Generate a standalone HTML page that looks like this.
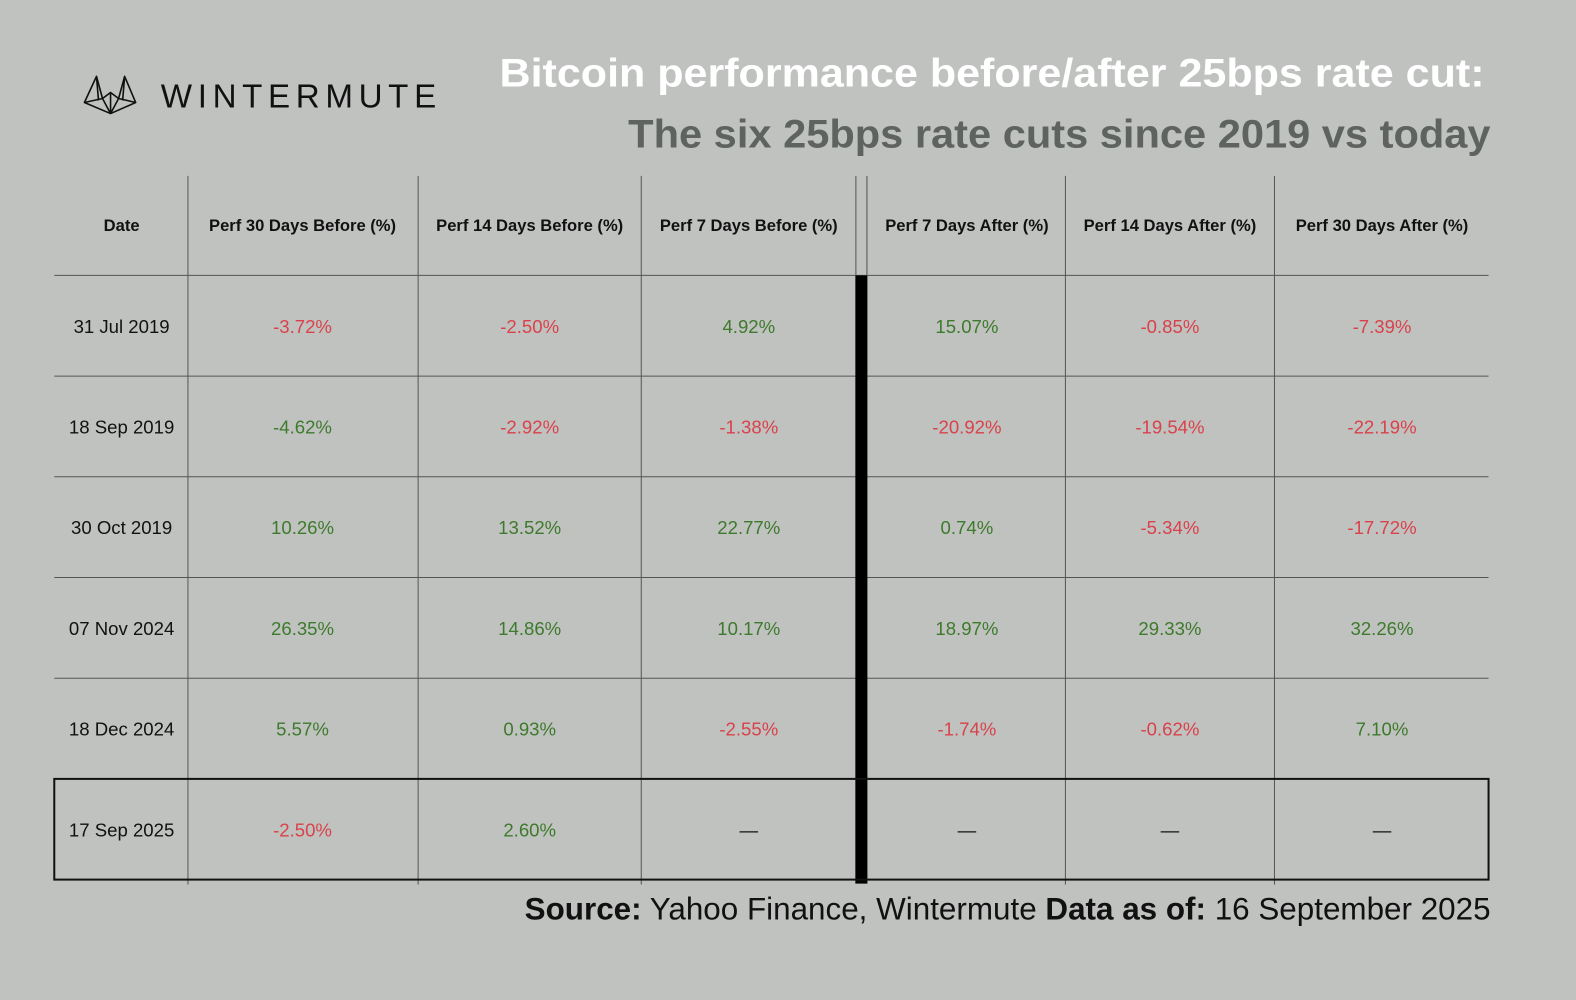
<!DOCTYPE html>
<html><head><meta charset="utf-8"><style>
html,body{margin:0;padding:0;background:#c0c2c0;}
svg{display:block;font-family:"Liberation Sans",sans-serif;}
</style></head><body>
<svg id="chart" width="1576" height="1000" viewBox="0 0 1568 995" preserveAspectRatio="none" xmlns="http://www.w3.org/2000/svg">
<rect width="1568" height="995" fill="#c0c2c0"/>
<g fill="none" stroke="#111" stroke-width="1.6" stroke-linejoin="round">
<path d="M84,102 L96,76 L102,98 L110,92 L118,98 L124,76 L135,102 L110,113 Z"/>
<path d="M84,102 L102,98 L110,113 M135,102 L118,98 L110,113 M110,92 L110,113 M96,76 L98,100 M124,76 L122,100"/>
</g>
<text x="160" y="107" font-size="33" fill="#111" textLength="274" lengthAdjust="spacing">WINTERMUTE</text>
<text x="497" y="86" font-size="40" font-weight="bold" fill="#ffffff" textLength="980" lengthAdjust="spacingAndGlyphs">Bitcoin performance before/after 25bps rate cut:</text>
<text x="625" y="147" font-size="40" font-weight="bold" fill="#5f6360" textLength="858" lengthAdjust="spacingAndGlyphs">The six 25bps rate cuts since 2019 vs today</text>
<g id="table"></g>
<text x="522" y="915" font-size="31" fill="#111" textLength="961" lengthAdjust="spacingAndGlyphs"><tspan font-weight="bold">Source:</tspan> Yahoo Finance, Wintermute <tspan font-weight="bold">Data as of:</tspan> 16 September 2025</text>
</svg>
<script>
const headers = ["Date","Perf 30 Days Before (%)","Perf 14 Days Before (%)","Perf 7 Days Before (%)","Perf 7 Days After (%)","Perf 14 Days After (%)","Perf 30 Days After (%)"];
const dates = ["31 Jul 2019","18 Sep 2019","30 Oct 2019","07 Nov 2024","18 Dec 2024","17 Sep 2025"];
const perf30Before = [-3.72,-4.62,10.26,26.35,5.57,-2.50];
const perf14Before = [-2.50,-2.92,13.52,14.86,0.93,2.60];
const perf7Before = [4.92,-1.38,22.77,10.17,-2.55,null];
const perf7After = [15.07,-20.92,0.74,18.97,-1.74,null];
const perf14After = [-0.85,-19.54,-5.34,29.33,-0.62,null];
const perf30After = [-7.39,-22.19,-17.72,32.26,7.10,null];
// -4.62 shown in green in the reference
const colorOverride = {"1-0":"green"};
const series = [perf30Before,perf14Before,perf7Before,perf7After,perf14After,perf30After];
(function(){
const NS="http://www.w3.org/2000/svg";
const g=document.getElementById('table');
const L=54,R=1481,tableTop=175,headB=274,rowH=100.2;
const colLines=[187,416,638,1060,1268];
const centers=[121,301,527,745,962,1164,1375];
function el(t,a){const e=document.createElementNS(NS,t);for(const k in a)e.setAttribute(k,a[k]);g.appendChild(e);return e;}
const rowY=i=>headB+i*rowH;
const bottom=rowY(dates.length);
colLines.forEach((x)=>{const e=el('line',{x1:x,x2:x,y1:tableTop,y2:bottom+5,stroke:'#555','stroke-width':1});

});
for(let i=0;i<dates.length;i++){const e=el('line',{x1:L,x2:R,y1:rowY(i),y2:rowY(i),stroke:'#555','stroke-width':1});

}
let s1=el('line',{x1:851.5,x2:851.5,y1:tableTop,y2:headB,stroke:'#777','stroke-width':1.5});


let s2=el('line',{x1:862.5,x2:862.5,y1:tableTop,y2:headB,stroke:'#777','stroke-width':1.5});


let sb=el('rect',{x:851,y:headB,width:12,height:bottom-headB+4,fill:'#000'});


let hb=el('rect',{x:L,y:rowY(dates.length-1),width:R-L,height:rowH,fill:'none',stroke:'#111','stroke-width':2});


headers.forEach((h,i)=>{const t=el('text',{x:centers[i],y:230,'font-size':16.5,'font-weight':'bold',fill:'#111','text-anchor':'middle'});t.textContent=h;

});
dates.forEach((d,r)=>{const cy=rowY(r)+rowH/2+7;
const t=el('text',{x:centers[0],y:cy,'font-size':18.5,fill:'#111','text-anchor':'middle'});t.textContent=d;


series.forEach((s,c)=>{const v=s[r];let txt,fill;
if(v===null){txt='—';fill='#111';}else{txt=v.toFixed(2)+'%';const ov=colorOverride[r+'-'+c];
fill=(ov==='green'||(!ov&&v>=0))?'#3d7a2c':'#d9424a';}
const e=el('text',{x:centers[c+1],y:cy,'font-size':18.5,fill:fill,'text-anchor':'middle'});e.textContent=txt;

});});
})();
</script>
</body></html>
